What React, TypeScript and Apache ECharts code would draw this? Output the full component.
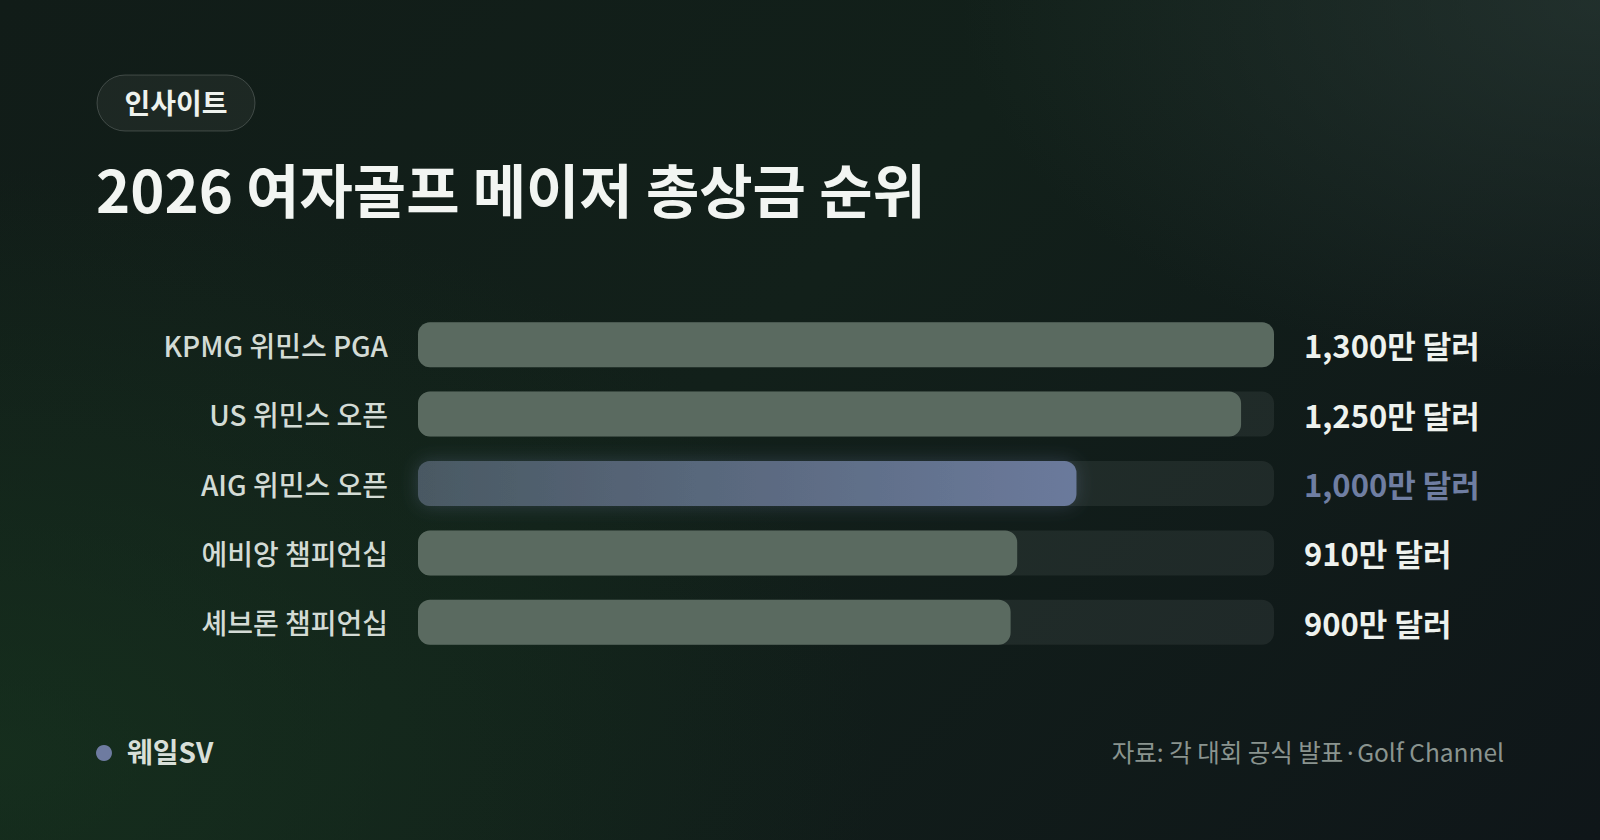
import React, { useEffect, useRef } from "react";
import * as echarts from "echarts";

const categories = [
  "KPMG 위민스 PGA",
  "US 위민스 오픈",
  "AIG 위민스 오픈",
  "에비앙 챔피언십",
  "셰브론 챔피언십",
];
const prizes = [1300, 1250, 1000, 910, 900]; // 만 달러
const highlightIndex = 2;
const trackMax = 1300;

const FONT = "'Noto Sans CJK KR', 'Noto Sans', sans-serif";

const formatPrize = (v: number) => v.toLocaleString("en-US") + "만 달러";

const App: React.FC = () => {
  const chartRef = useRef<HTMLDivElement>(null);

  useEffect(() => {
    document.body.style.margin = "0";
    if (!chartRef.current) return;
    const chart = echarts.init(chartRef.current, undefined, { renderer: "svg" });

    const option: echarts.EChartsOption = {
      animation: false,
      backgroundColor: "transparent",
      grid: { left: 418, right: 326, top: 310, height: 347 },
      xAxis: { type: "value", min: 0, max: trackMax, show: false },
      yAxis: {
        type: "category",
        data: categories,
        inverse: true,
        axisLine: { show: false },
        axisTick: { show: false },
        axisLabel: {
          margin: 30,
          fontSize: 28,
          fontWeight: 500,
          fontFamily: FONT,
          color: "#d3dbd5",
        },
      },
      series: [
        {
          type: "bar",
          silent: true,
          barWidth: 45,
          data: prizes.map((_, i) => ({
            value: trackMax,
            label: {
              color: i === highlightIndex ? "#6f7ea2" : "#eef2ee",
            },
          })),
          itemStyle: { color: "rgba(255,255,255,0.065)", borderRadius: 12 },
          label: {
            show: true,
            position: "right",
            distance: 30,
            fontSize: 31,
            fontWeight: "bold",
            fontFamily: FONT,
            formatter: (p: any) => formatPrize(prizes[p.dataIndex]),
          },
        },
        {
          type: "bar",
          silent: true,
          barWidth: 45,
          barGap: "-100%",
          z: 3,
          data: prizes.map((v, i) =>
            i === highlightIndex
              ? {
                  value: v,
                  itemStyle: {
                    color: new echarts.graphic.LinearGradient(0, 0, 1, 0, [
                      { offset: 0, color: "#4a5963" },
                      { offset: 1, color: "#6b7a9c" },
                    ]),
                    shadowBlur: 18,
                    shadowColor: "rgba(110,125,165,0.3)",
                  },
                }
              : v
          ),
          itemStyle: { color: "#5a6a60", borderRadius: 12 },
        },
      ],
      graphic: [
        {
          type: "rect",
          shape: { x: 97, y: 75, width: 158, height: 56, r: 28 },
          style: {
            fill: "rgba(255,255,255,0.05)",
            stroke: "rgba(255,255,255,0.18)",
            lineWidth: 1,
          },
        },
        {
          type: "text",
          x: 176,
          y: 102,
          style: {
            text: "인사이트",
            fontSize: 28,
            fontWeight: "bold",
            fontFamily: FONT,
            fill: "#eef2ee",
            align: "center",
            verticalAlign: "middle",
          },
        },
        {
          type: "text",
          x: 96,
          y: 188,
          style: {
            text: "2026 여자골프 메이저 총상금 순위",
            fontSize: 58,
            fontWeight: "bold",
            fontFamily: FONT,
            fill: "#f2f5f2",
            verticalAlign: "middle",
          },
        },
        {
          type: "circle",
          shape: { cx: 104, cy: 753, r: 8 },
          style: { fill: "#6e7ba0" },
        },
        {
          type: "text",
          x: 127,
          y: 751,
          style: {
            text: "웨일SV",
            fontSize: 28,
            fontWeight: "bold",
            fontFamily: FONT,
            fill: "#d8dfd8",
            verticalAlign: "middle",
          },
        },
        {
          type: "text",
          x: 1504,
          y: 751,
          style: {
            text: "자료: 각 대회 공식 발표·Golf Channel",
            fontSize: 24.5,
            fontFamily: FONT,
            fill: "#8a948f",
            align: "right",
            verticalAlign: "middle",
          },
        },
      ],
    };

    chart.setOption(option);

    return () => {
      chart.dispose();
    };
  }, []);

  return (
    <div
      style={{
        position: "fixed",
        left: 0,
        top: 0,
        width: 1600,
        height: 840,
        background:
          "radial-gradient(ellipse 40% 45% at 100% 0%, rgba(42,58,54,0.65), rgba(42,58,54,0) 100%)," +
          "radial-gradient(ellipse 55% 70% at 0% 90%, rgba(24,56,32,0.6), rgba(24,56,32,0) 100%)," +
          "linear-gradient(135deg, #111c18 0%, #12201a 45%, #0f1619 100%)",
      }}
    >
      <div ref={chartRef} style={{ width: 1600, height: 840 }} />
    </div>
  );
};

export default App;
